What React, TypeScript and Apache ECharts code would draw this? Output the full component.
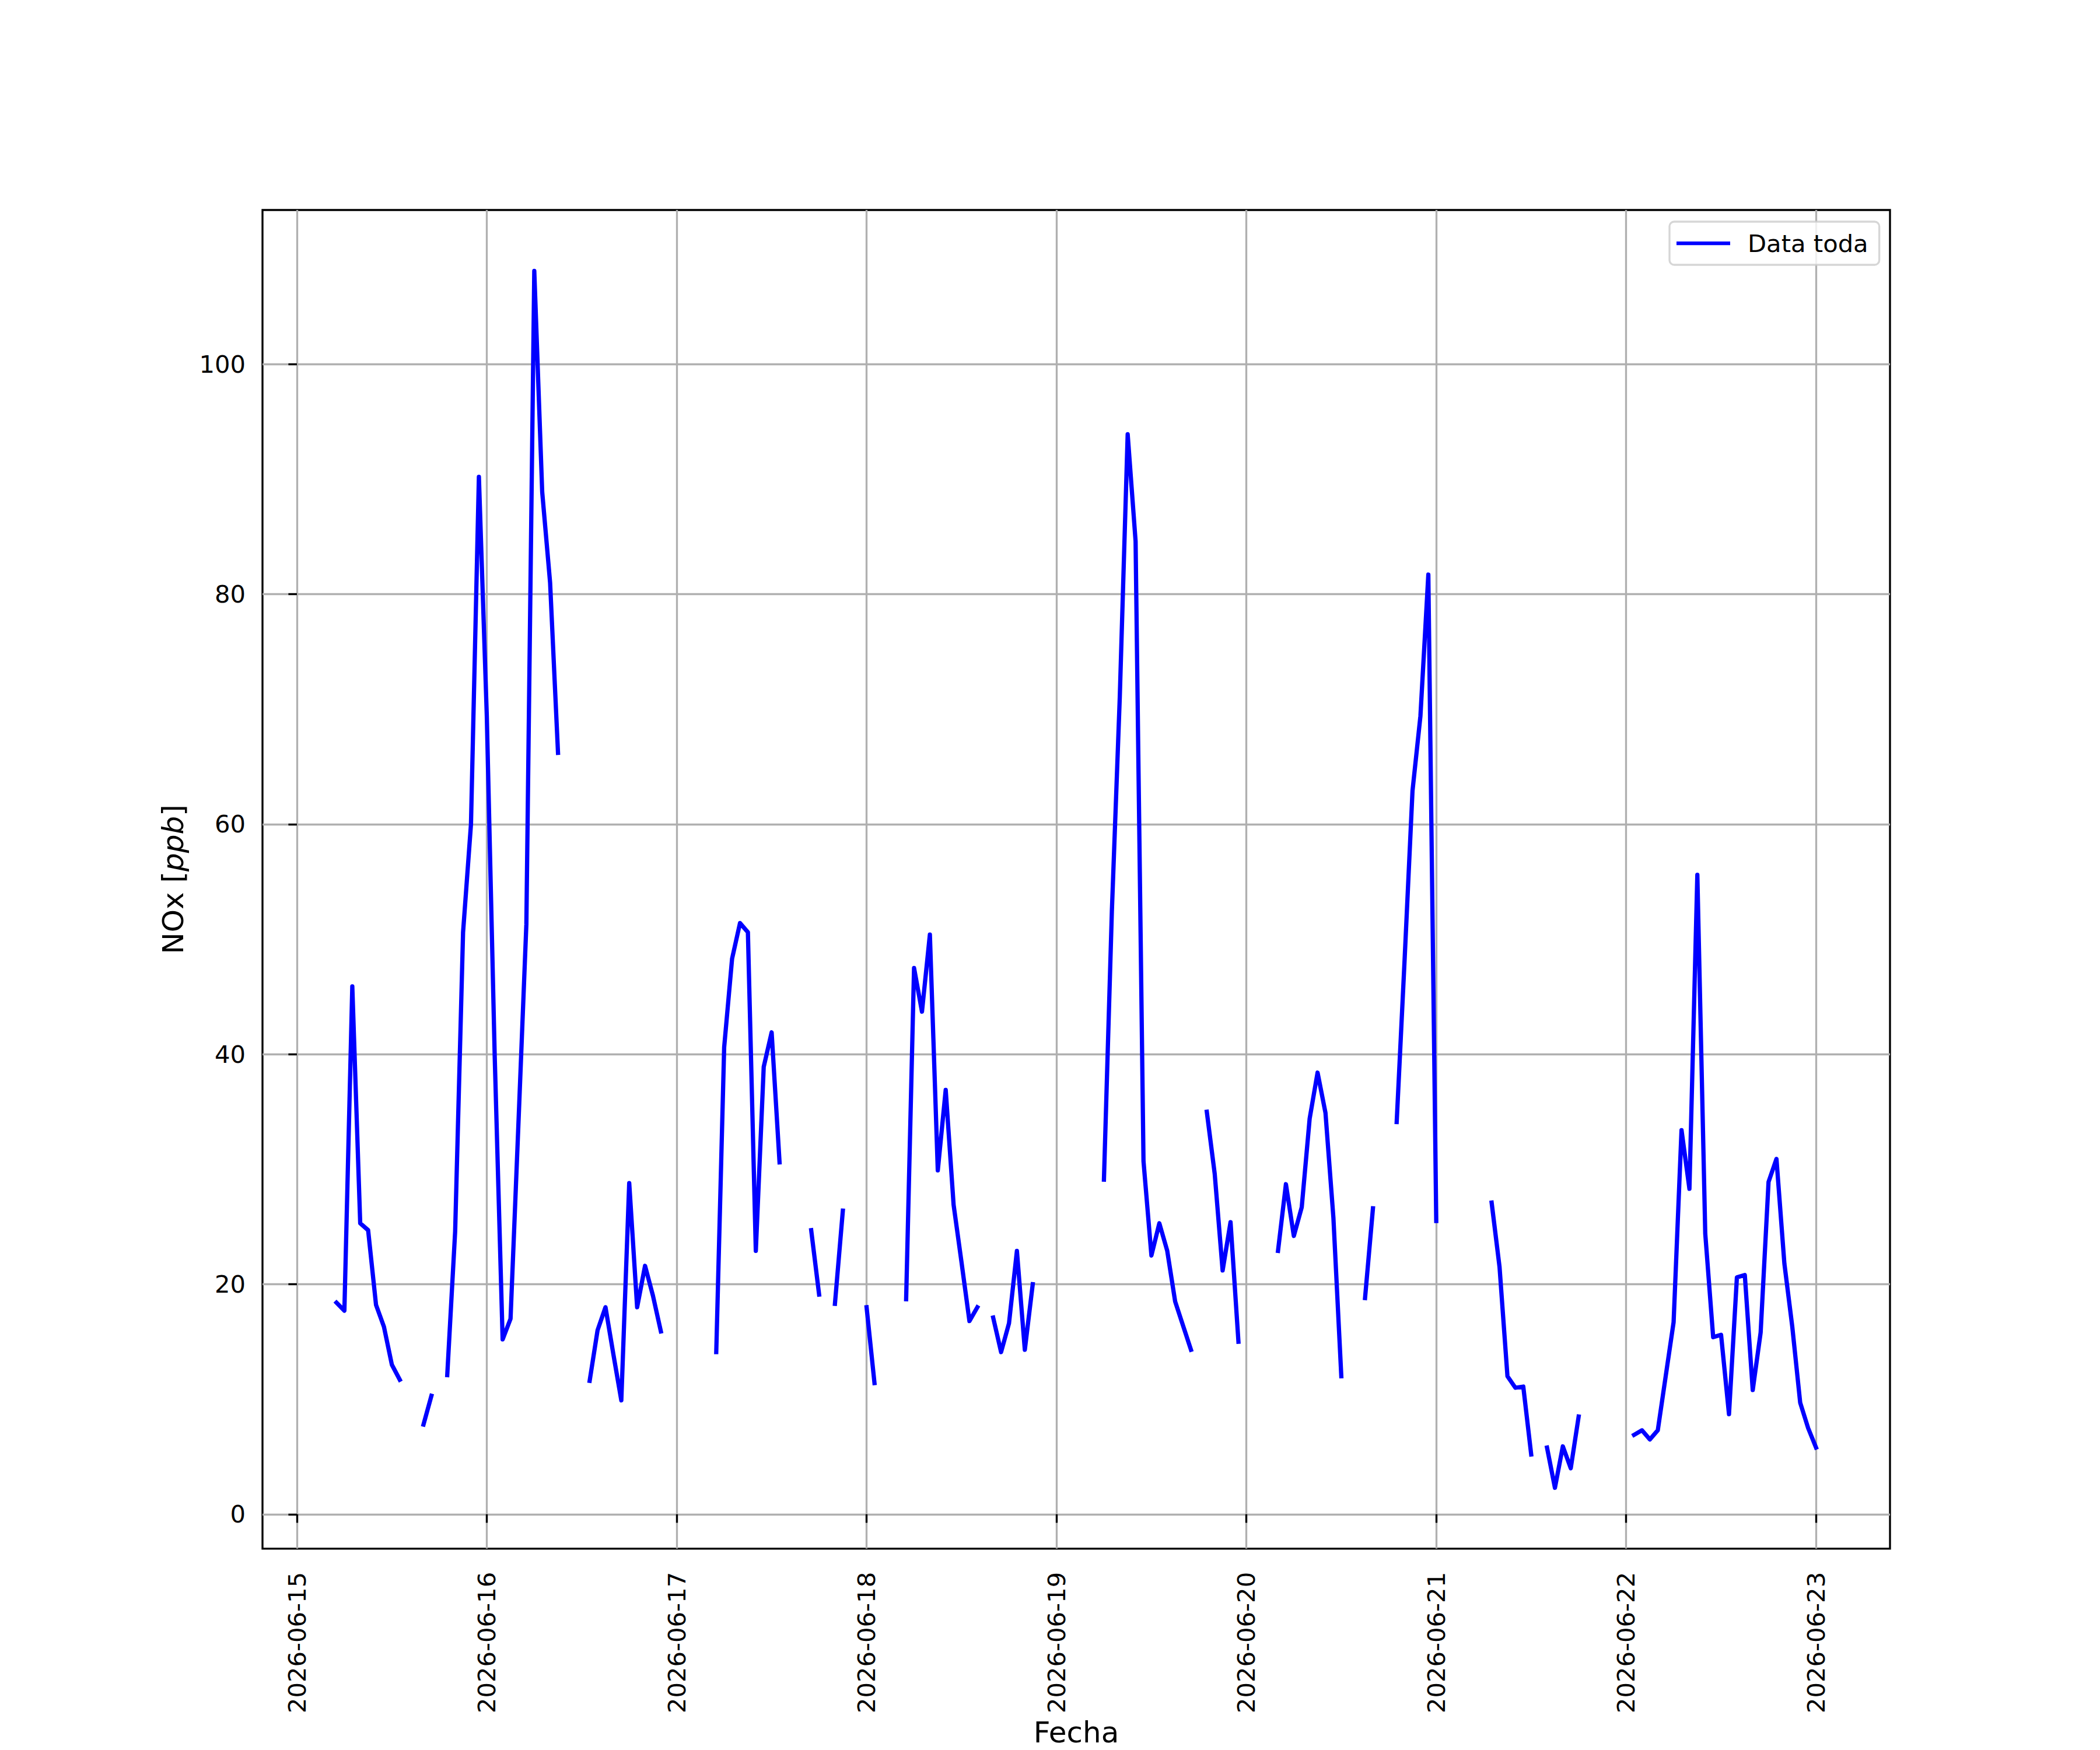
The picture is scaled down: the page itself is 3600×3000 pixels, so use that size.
import React, { useEffect, useRef } from "react";
import * as echarts from "echarts";

// Hourly NOx values starting 2026-06-15 00:00 (UTC), null = missing
const startDate = "2026-06-15";
const nox: (number | null)[] = [
  // 2026-06-15
  null, null, null, null, null, 18.4, 17.7, 45.9, 25.3, 24.7, 18.2, 16.3, 13.0, 11.7, null, null, 7.8, 10.3, null, 12.1, 24.6, 50.6, 60.0, 90.2,
  // 2026-06-16
  69.4, 39.8, 15.2, 17.0, 34.0, 51.3, 108.1, 88.9, 81.0, 66.2, null, null, null, 11.6, 16.0, 18.0, 13.9, 9.9, 28.8, 18.0, 21.6, 19.0, 15.9, null,
  // 2026-06-17
  null, null, null, null, null, 14.1, 40.6, 48.3, 51.4, 50.6, 22.9, 38.9, 41.9, 30.6, null, null, null, 24.7, 19.1, null, 18.3, 26.4, null, null,
  // 2026-06-18
  18.0, 11.4, null, null, null, 18.7, 47.5, 43.7, 50.4, 29.9, 36.9, 26.9, 21.9, 16.8, 18.0, null, 17.1, 14.1, 16.6, 22.9, 14.3, 20.0, null, null,
  // 2026-06-19
  null, null, null, null, null, null, 29.1, 52.4, 71.0, 93.9, 84.6, 30.7, 22.5, 25.3, 22.9, 18.5, 16.4, 14.3, null, 35.0, 29.6, 21.2, 25.4, 15.0,
  // 2026-06-20
  null, null, null, null, 22.9, 28.7, 24.2, 26.7, 34.4, 38.4, 34.9, 25.8, 12.0, null, null, 18.8, 26.6, null, null, 34.1, 48.2, 62.9, 69.4, 81.7,
  // 2026-06-21
  25.5, null, null, null, null, null, null, 27.1, 21.5, 12.0, 11.0, 11.1, 5.2, null, 5.8, 2.3, 5.9, 4.0, 8.5, null, null, null, null, null,
  // 2026-06-22 .. 2026-06-23 00:00
  null, 6.9, 7.3, 6.5, 7.3, 12.0, 16.7, 33.4, 28.3, 55.6, 24.4, 15.4, 15.6, 8.7, 20.6, 20.8, 10.8, 15.8, 28.9, 30.9, 21.8, 16.3, 9.7, 7.5, 5.8,
];
const xTickHours = [0, 24, 48, 72, 96, 120, 144, 168, 192];
const yTickValues = [0, 20, 40, 60, 80, 100];
const seriesName = "Data toda";
const xLabel = "Fecha";

const START_MS = Date.parse(startDate + "T00:00:00Z");
const fmtDate = (h: number) => new Date(START_MS + h * 3600000).toISOString().slice(0, 10);

export default function App() {
  const ref = useRef<HTMLDivElement>(null);
  useEffect(() => {
    document.body.style.margin = "0";
    if (!ref.current) return;
    const chart = echarts.init(ref.current, null, { renderer: "svg" });
    const FS = 41.7;
    const LFS = 50;
    const LW = 3.33;
    const font = "DejaVu Sans";
    chart.setOption({
      animation: false,
      backgroundColor: "#ffffff",
      textStyle: { fontFamily: font },
      grid: {
        left: 450,
        top: 360,
        width: 2790,
        height: 2310,
        show: true,
        borderColor: "#000000",
        borderWidth: LW,
        backgroundColor: "transparent",
        containLabel: false,
      },
      legend: {
        show: true,
        left: 2862,
        top: 380,
        orient: "horizontal",
        data: [{ name: seriesName, icon: "rect" }],
        itemWidth: 92,
        itemHeight: 6.25,
        padding: [16, 19, 16, 12],
        backgroundColor: "rgba(255,255,255,0.8)",
        borderColor: "rgba(204,204,204,0.8)",
        borderWidth: LW,
        borderRadius: 8,
        selectedMode: false,
        textStyle: { fontSize: FS, color: "#000", fontFamily: font, padding: [0, 0, 0, 25] },
        z: 10,
      },
      xAxis: {
        type: "value",
        min: -4.35,
        max: 201.35,
        name: xLabel,
        nameLocation: "middle",
        nameGap: 286,
        nameTextStyle: { fontSize: LFS, color: "#000", fontFamily: font, verticalAlign: "top" },
        axisLine: { show: false },
        axisTick: {
          show: true,
          inside: false,
          length: 14.6,
          lineStyle: { color: "#000", width: LW },
          customValues: xTickHours,
        },
        axisLabel: {
          show: true,
          rotate: 90,
          margin: 40,
          fontSize: FS,
          color: "#000",
          fontFamily: font,
          customValues: xTickHours,
          formatter: (v: number) => fmtDate(v),
        },
        splitLine: { show: true, lineStyle: { color: "#b0b0b0", width: LW } },
      },
      yAxis: {
        type: "value",
        min: -2.99,
        max: 113.4,
        name: "NOx [{i|ppb}]",
        nameLocation: "middle",
        nameGap: 128,
        nameRotate: 90,
        nameTextStyle: {
          fontSize: LFS,
          color: "#000",
          fontFamily: font,
          rich: { i: { fontSize: LFS, fontStyle: "italic", color: "#000", fontFamily: font } },
        },
        axisLine: { show: false },
        axisTick: {
          show: true,
          inside: false,
          length: 14.6,
          lineStyle: { color: "#000", width: LW },
          customValues: yTickValues,
        },
        axisLabel: {
          show: true,
          margin: 29,
          fontSize: FS,
          color: "#000",
          fontFamily: font,
          customValues: yTickValues,
        },
        splitLine: { show: true, lineStyle: { color: "#b0b0b0", width: LW } },
      },
      series: [
        {
          name: seriesName,
          type: "line",
          data: nox.map((v, i) => [i, v === null ? "-" : v]),
          showSymbol: false,
          symbol: "none",
          connectNulls: false,
          color: "#0000ff",
          lineStyle: { color: "#0000ff", width: 7.3, cap: "square", join: "round" },
          z: 3,
        },
      ],
    });
    return () => chart.dispose();
  }, []);
  return <div ref={ref} style={{ width: 3600, height: 3000 }} />;
}
